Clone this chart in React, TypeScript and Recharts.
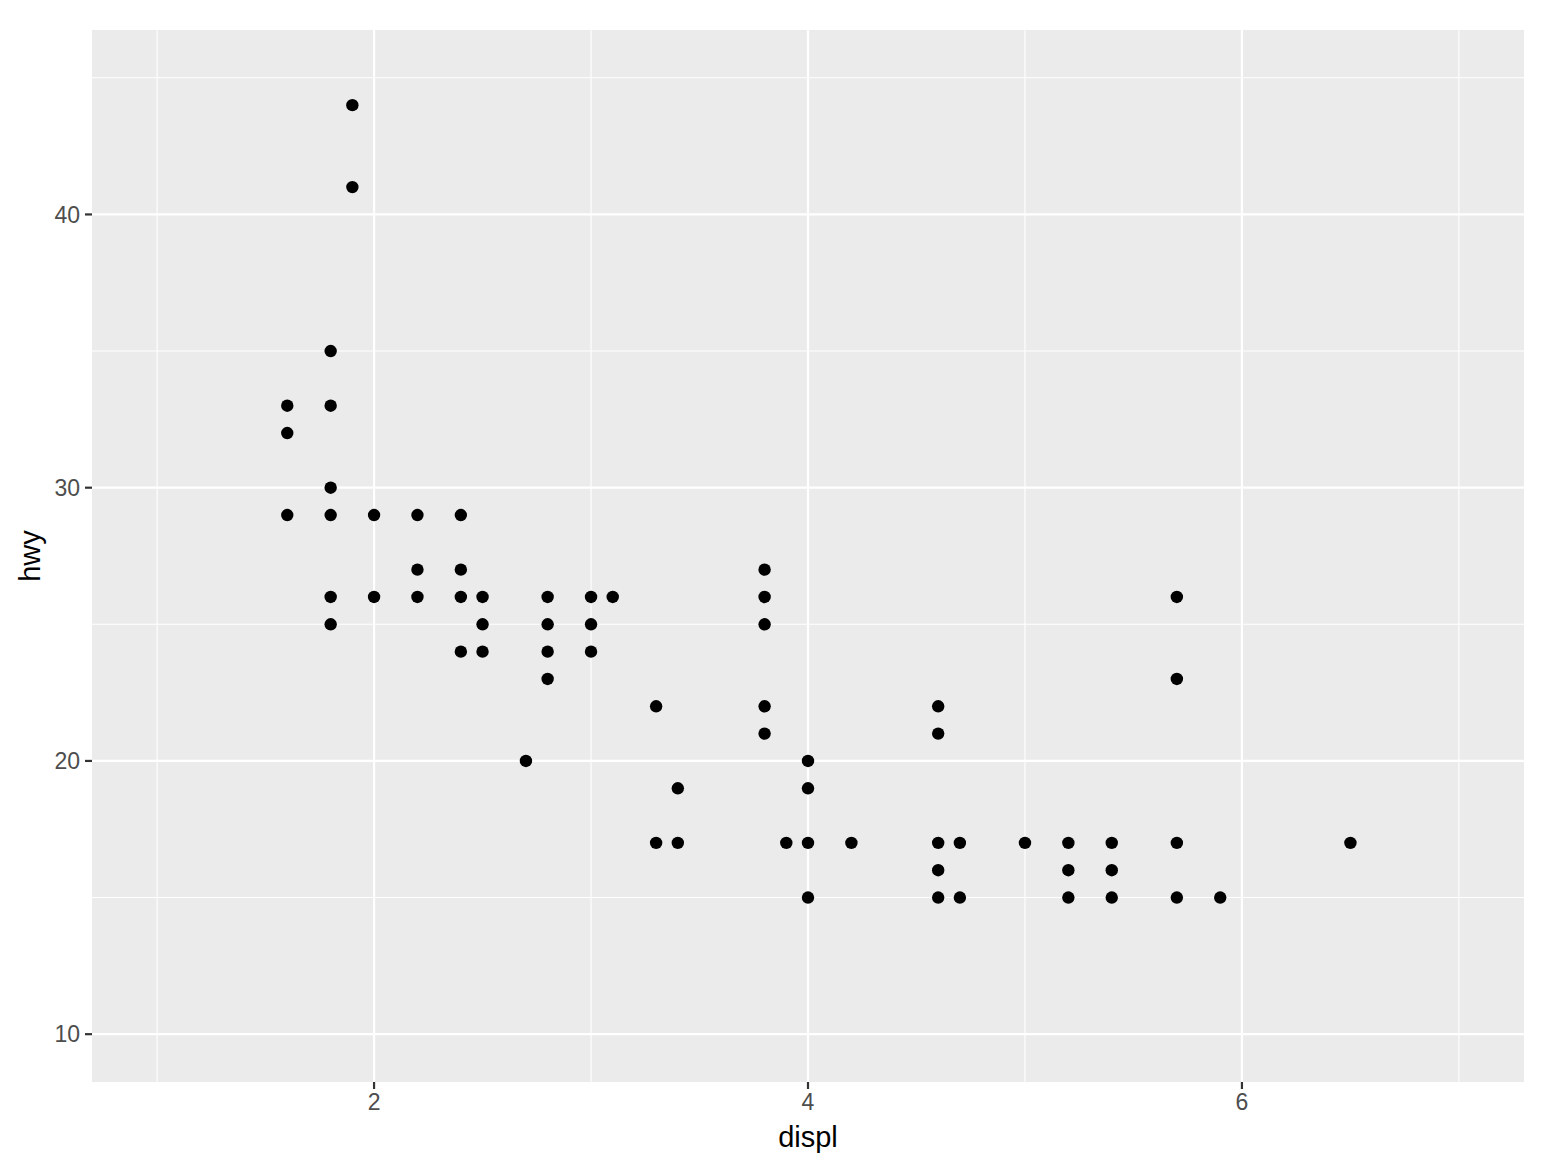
import React from 'react';
import { ScatterChart, Scatter, XAxis, YAxis, CartesianGrid, Label } from 'recharts';

const displ = [
  1.6, 1.6, 1.6,
  1.8, 1.8, 1.8, 1.8, 1.8, 1.8,
  1.9, 1.9,
  2.0, 2.0,
  2.2, 2.2, 2.2,
  2.4, 2.4, 2.4, 2.4,
  2.5, 2.5, 2.5,
  2.7,
  2.8, 2.8, 2.8, 2.8,
  3.0, 3.0, 3.0,
  3.1,
  3.3, 3.3,
  3.4, 3.4,
  3.8, 3.8, 3.8, 3.8, 3.8,
  3.9,
  4.0, 4.0, 4.0, 4.0,
  4.2,
  4.6, 4.6, 4.6, 4.6, 4.6,
  4.7, 4.7,
  5.0,
  5.2, 5.2, 5.2,
  5.4, 5.4, 5.4,
  5.7, 5.7, 5.7, 5.7,
  5.9,
  6.5,
];
const hwy = [
  33, 32, 29,
  35, 33, 30, 29, 26, 25,
  44, 41,
  29, 26,
  29, 27, 26,
  29, 27, 26, 24,
  26, 25, 24,
  20,
  26, 25, 24, 23,
  26, 25, 24,
  26,
  22, 17,
  19, 17,
  27, 26, 25, 22, 21,
  17,
  20, 19, 17, 15,
  17,
  22, 21, 17, 16, 15,
  17, 15,
  17,
  17, 16, 15,
  17, 16, 15,
  26, 23, 17, 15,
  15,
  17,
];

const xTicks = [2, 4, 6];
const yTicks = [10, 20, 30, 40];
const xMinor = [1, 3, 5, 7];
const yMinor = [15, 25, 35, 45];

const data = displ.map((d, i) => ({ displ: d, hwy: hwy[i] }));

const W = 1544;
const H = 1160;

const Dot = (props: any) => {
  const { cx, cy } = props;
  return <circle cx={cx} cy={cy} r={6.2} fill="#000000" />;
};

export default function App() {
  return (
    <div style={{ position: 'absolute', left: 0, top: 0, width: W, height: H, background: '#fff' }}>
      <ScatterChart width={W} height={H} margin={{ top: 30, right: 20, bottom: 0, left: 0 }}>
        <CartesianGrid
          fill="#EBEBEB"
          stroke="#FFFFFF"
          strokeWidth={1.1}
          horizontalValues={yMinor}
          verticalValues={xMinor}
        />
        <CartesianGrid stroke="#FFFFFF" strokeWidth={2.2} horizontalValues={yTicks} verticalValues={xTicks} />
        <XAxis
          dataKey="displ"
          type="number"
          domain={[0.7, 7.3]}
          ticks={xTicks}
          allowDataOverflow
          height={78}
          axisLine={false}
          tickSize={7}
          tickMargin={5}
          tickLine={{ stroke: '#333333', strokeWidth: 2.2 }}
          tick={{ fill: '#4D4D4D', fontSize: 23, fontFamily: 'Liberation Sans, Arial, sans-serif' }}
        >
          <Label
            content={(p: any) => {
              const vb = p.viewBox;
              return (
                <text
                  x={vb.x + vb.width / 2}
                  y={vb.y + 65}
                  textAnchor="middle"
                  fill="#000000"
                  fontSize={29}
                  fontFamily="Liberation Sans, Arial, sans-serif"
                >
                  displ
                </text>
              );
            }}
          />
        </XAxis>
        <YAxis
          dataKey="hwy"
          type="number"
          domain={[8.25, 46.75]}
          ticks={yTicks}
          allowDataOverflow
          width={92}
          axisLine={false}
          tickSize={7}
          tickMargin={5}
          tickLine={{ stroke: '#333333', strokeWidth: 2.2 }}
          tick={{ fill: '#4D4D4D', fontSize: 23, fontFamily: 'Liberation Sans, Arial, sans-serif' }}
        >
          <Label
            content={(p: any) => {
              const vb = p.viewBox;
              const cx = vb.x + 40;
              const cy = vb.y + vb.height / 2;
              return (
                <text
                  x={cx}
                  y={cy}
                  transform={`rotate(-90, ${cx}, ${cy})`}
                  textAnchor="middle"
                  fill="#000000"
                  fontSize={29}
                  fontFamily="Liberation Sans, Arial, sans-serif"
                >
                  hwy
                </text>
              );
            }}
          />
        </YAxis>
        <Scatter data={data} shape={<Dot />} isAnimationActive={false} />
      </ScatterChart>
    </div>
  );
}
